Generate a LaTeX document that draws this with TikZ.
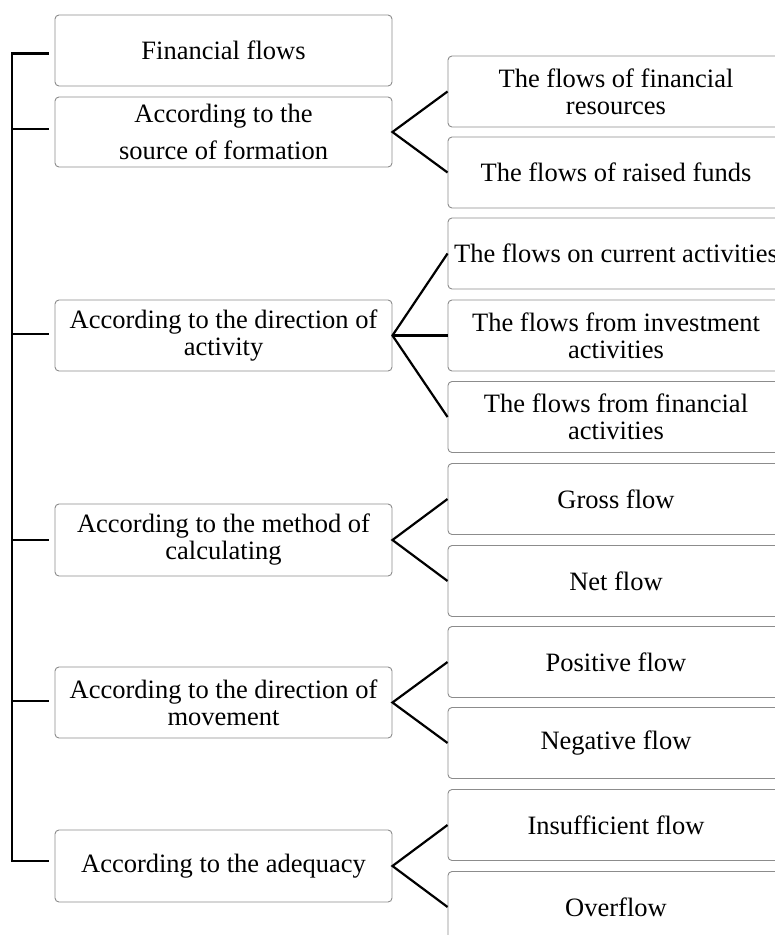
\documentclass[tikz,border=0pt]{standalone}
\usepackage{fontspec}
\setmainfont{Liberation Serif}
\begin{document}
\begin{tikzpicture}[x=1pt,y=-1pt,
  box/.style={draw=black!45, line width=0.9pt, rounded corners=4pt, fill=white,
    minimum height=71pt, inner sep=0pt, align=center,
    font=\fontsize{26.5}{27}\selectfont},
  lbox/.style={box, minimum width=337pt},
  rbox/.style={box, minimum width=336pt},
  link/.style={draw=black, line width=2.2pt},
  spine/.style={draw=black, line width=2.2pt, line cap=rect}]
\useasboundingbox (0,0) rectangle (775,935);
\clip (0,0) rectangle (775,935);
\fill[white] (0,0) rectangle (775,935);
% left column
\node[lbox] (ff)   at (223.5,50.5)  {\raisebox{-4pt}{Financial flows}};
\node[lbox, minimum height=70pt] (src) at (223.5,132) {According to the\\[10pt]source of formation};
\node[lbox] (act)  at (223.5,335.5) {According to the direction of\\activity};
\node[lbox, minimum height=72pt] (calc) at (223.5,540) {According to the method of\\calculating};
\node[lbox] (mov)  at (223.5,702.5) {According to the direction of\\movement};
\node[lbox, minimum height=72pt] (adq)  at (223.5,866) {According to the adequacy};
% right column
\node[rbox] (r1)  at (616,91.5)  {The flows of financial\\resources};
\node[rbox] (r2)  at (616,172.5) {The flows of raised funds};
\node[rbox] (r3)  at (616,253.5) {The flows on current activities};
\node[rbox] (r4)  at (616,335.5) {The flows from investment\\activities};
\node[rbox] (r5)  at (616,417)   {The flows from financial\\activities};
\node[rbox] (r6)  at (616,499)   {Gross flow};
\node[rbox] (r7)  at (616,581)   {Net flow};
\node[rbox] (r8)  at (616,662)   {Positive flow};
\node[rbox] (r9)  at (616,743)   {Negative flow};
\node[rbox] (r10) at (616,825)   {Insufficient flow};
\node[rbox] (r11) at (616,907)   {Overflow};
% spine
\coordinate (sp) at (12,0);
\draw[spine] ([yshift=-3pt]ff.west -| sp) -- ([yshift=5pt]adq.west -| sp);
\foreach \n/\d in {ff/-3,src/3,act/1.5,calc/0,mov/1.5,adq/5}{
  \draw[spine] ([xshift=-7pt,yshift=\d pt]\n.west) -- ([yshift=\d pt]\n.west -| sp);
}
% forks
\draw[link] (r1.west) -- (src.east) -- (r2.west);
\draw[link] (r3.west) -- (act.east) -- (r5.west);
\draw[link] (act.east) -- (r4.west);
\draw[link] (r6.west) -- (calc.east) -- (r7.west);
\draw[link] (r8.west) -- (mov.east) -- (r9.west);
\draw[link] (r10.west) -- (adq.east) -- (r11.west);
\end{tikzpicture}
\end{document}
